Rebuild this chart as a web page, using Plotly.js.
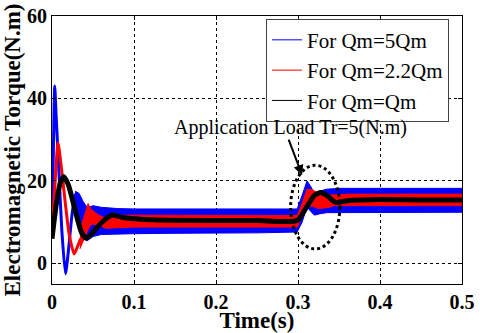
<!DOCTYPE html>
<html>
<head>
<meta charset="utf-8">
<script src="https://cdn.plot.ly/plotly-3.0.1.min.js"></script>
<style>
  html, body { margin: 0; padding: 0; background: #fff; }
  #chart { width: 480px; height: 333px; }
</style>
</head>
<body>
<div id="chart"></div>
<script>
// Electromagnetic torque response for three Qm values, load step at t = 0.3 s

const seriesNames = ['For Qm=5Qm', 'For Qm=2.2Qm', 'For Qm=Qm'];

// Qm = 5Qm (blue): start-up transient, then ripple band (upper / lower envelope)
const blueT = [0, 0.0015, 0.0033, 0.005, 0.008, 0.012, 0.0164, 0.02, 0.0245, 0.0286, 0.031];
const blueV = [6.5, 25, 43, 36, 24, 8, -2.5, 3, 12, 16.8, 16];
const blueBandT  = [0.028, 0.033, 0.038, 0.043, 0.05, 0.06, 0.08, 0.1, 0.15, 0.2, 0.25, 0.299, 0.305, 0.311, 0.316, 0.32, 0.326, 0.335, 0.35, 0.4, 0.45, 0.5];
const blueBandHi = [17.5, 17, 15, 13.5, 14, 13.6, 13.3, 13.2, 13.2, 13.2, 13.2, 13.2, 16.5, 20, 18.5, 17, 17.5, 18, 18.2, 18.2, 18.2, 18.2];
const blueBandLo = [15, 10, 6, 5.5, 6.5, 7, 7.1, 7.2, 7.3, 7.4, 7.4, 7.6, 10, 13.7, 12.5, 11.7, 12, 12.3, 12.4, 12.4, 12.4, 12.4];

// Qm = 2.2Qm (red)
const redT = [0, 0.003, 0.0073, 0.011, 0.016, 0.021, 0.027, 0.031, 0.035];
const redV = [7, 17, 29.2, 24, 15, 7, 2.3, 4, 6];
const redBandT  = [0.034, 0.038, 0.044, 0.048, 0.057, 0.065, 0.075, 0.1, 0.2, 0.299, 0.305, 0.311, 0.318, 0.325, 0.335, 0.345, 0.36, 0.4, 0.5];
const redBandHi = [8, 10.6, 14.5, 13, 11.7, 11, 11.6, 11.7, 11.6, 11.6, 14.5, 18, 17.8, 17, 16.5, 16.6, 16.8, 16.8, 16.8];
const redBandLo = [3.5, 5.6, 8.2, 9.5, 9.4, 8.5, 8.6, 8.8, 8.8, 8.8, 11.5, 14, 13.8, 13.3, 13.5, 14, 14, 14, 14];

// Qm = Qm (black)
const blackT = [0, 0.005, 0.01, 0.0143, 0.02, 0.03, 0.036, 0.042, 0.05, 0.06, 0.073, 0.085, 0.1, 0.13, 0.2, 0.25, 0.299, 0.31, 0.32, 0.328, 0.335, 0.346, 0.36, 0.4, 0.45, 0.5];
const blackV = [6, 14, 19.5, 21, 19, 11.5, 7.5, 6.1, 7.5, 9.8, 11.7, 11.2, 10.8, 10.5, 10.4, 10.4, 10.4, 13.5, 16.5, 17.2, 16.5, 14.8, 15.2, 15.5, 15.4, 15.4];

const xTicks = [0, 0.1, 0.2, 0.3, 0.4, 0.5];
const yTicks = [0, 20, 40, 60];

const SERIF = 'Liberation Serif';

function band(t, hi, lo, color) {
  return {
    x: t.concat(t.slice().reverse()),
    y: hi.concat(lo.slice().reverse()),
    type: 'scatter', mode: 'lines', fill: 'toself',
    fillcolor: color, line: { color: color, width: 1 },
    showlegend: false, hoverinfo: 'skip'
  };
}

function curve(t, v, color, width) {
  return {
    x: t, y: v, type: 'scatter', mode: 'lines',
    line: { color: color, width: width, shape: 'spline', smoothing: 0.6 },
    showlegend: false
  };
}

function legendEntry(name, color) {
  return {
    x: [null], y: [null], type: 'scatter', mode: 'lines',
    name: name, line: { color: color, width: 1 }
  };
}

const traces = [
  band(blueBandT, blueBandHi, blueBandLo, '#0000ff'),
  curve(blueT, blueV, '#0000ff', 3),
  band(redBandT, redBandHi, redBandLo, '#ff0000'),
  curve(redT, redV, '#ff0000', 3),
  curve(blackT, blackV, '#000000', 5),
  legendEntry(seriesNames[0], '#0000ff'),
  legendEntry(seriesNames[1], '#ff0000'),
  legendEntry(seriesNames[2], '#000000')
];

const axisCommon = {
  showline: true, mirror: 'ticks', linecolor: '#000', linewidth: 1,
  ticks: 'inside', ticklen: 4, tickcolor: '#000',
  showgrid: true, gridcolor: '#000', griddash: 'dot', gridwidth: 1,
  zeroline: false,
  tickfont: { family: SERIF, size: 20, color: '#000', weight: 'bold' }
};

const layout = {
  width: 480, height: 333,
  font: { family: SERIF, color: '#000', size: 20 },
  paper_bgcolor: '#fff', plot_bgcolor: '#fff',
  margin: { l: 52, r: 18, t: 16, b: 49 },
  xaxis: {
    ...axisCommon,
    range: [0, 0.5], tickvals: xTicks,
    title: { text: 'Time(s)', font: { family: SERIF, size: 23, color: '#000', weight: 'bold' }, standoff: 2 }
  },
  yaxis: {
    ...axisCommon,
    range: [-5, 60], tickvals: yTicks,
    title: { text: 'Electromagnetic Torque(N.m)', font: { family: SERIF, size: 23, color: '#000', weight: 'bold' }, standoff: 0 }
  },
  legend: {
    x: 0.522, y: 0.99, xanchor: 'left', yanchor: 'top',
    bgcolor: '#fff', bordercolor: '#444', borderwidth: 1,
    font: { family: SERIF, size: 21, color: '#000', weight: 'normal', style: 'normal' },
    tracegroupgap: 0
  },
  shapes: [
    {
      type: 'circle', xref: 'x', yref: 'y',
      x0: 0.291, x1: 0.351, y0: 3.5, y1: 23.8,
      line: { color: '#000', width: 3, dash: 'dot' }
    }
  ],
  annotations: [
    {
      x: 0.291, y: 33, xref: 'x', yref: 'y',
      text: 'Application Load Tr=5(N.m)', showarrow: false,
      font: { family: SERIF, size: 20, color: '#000' }
    },
    {
      x: 0.305, y: 21.4, xref: 'x', yref: 'y', text: '',
      showarrow: true, ax: -14, ay: -37,
      arrowhead: 2, arrowsize: 1, arrowwidth: 2, arrowcolor: '#000'
    }
  ]
};

Plotly.newPlot('chart', traces, layout, { displayModeBar: false, staticPlot: true });
</script>
</body>
</html>
